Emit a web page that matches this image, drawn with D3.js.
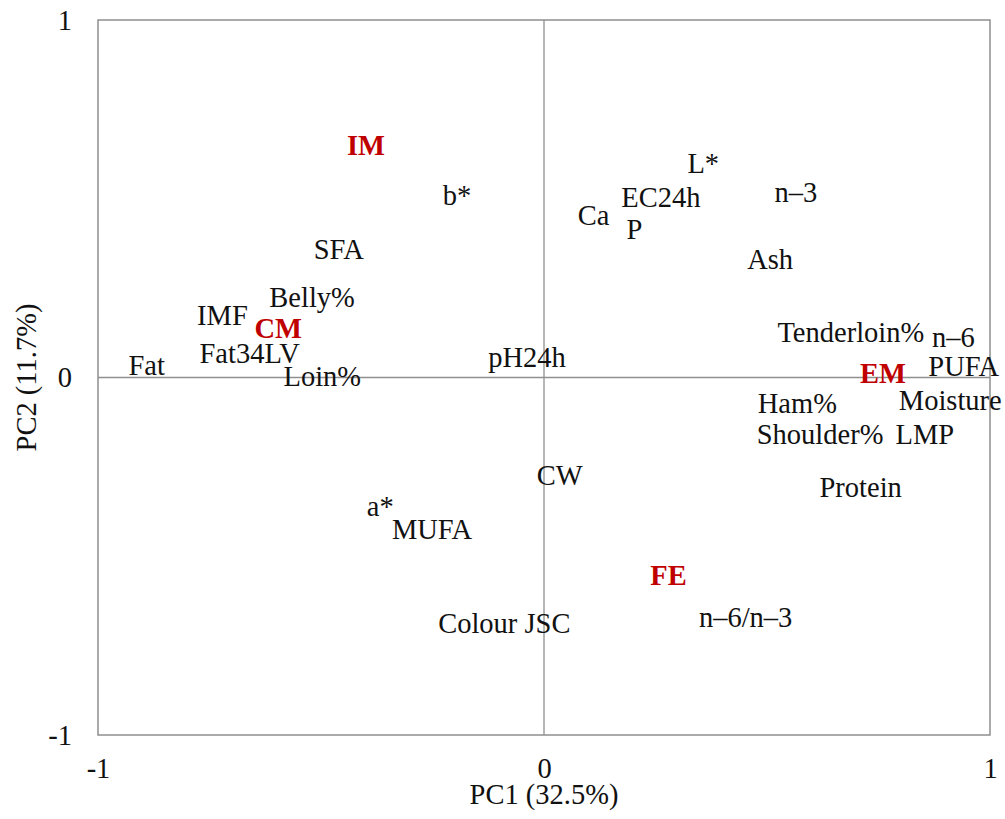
<!DOCTYPE html>
<html>
<head>
<meta charset="utf-8">
<script src="https://cdn.jsdelivr.net/npm/d3@7"></script>
<style>
  html, body { margin: 0; padding: 0; background: #fff; }
</style>
</head>
<body>
<svg id="chart" width="1005" height="819"></svg>
<script>
// Variable loadings (PC1, PC2)
const variables = ["Fat", "IMF", "Fat34LV", "Belly%", "Loin%", "SFA", "b*", "pH24h",
  "Ca", "EC24h", "P", "L*", "n–3", "Ash", "Tenderloin%", "n–6", "PUFA", "Moisture",
  "Ham%", "Shoulder%", "LMP", "Protein", "CW", "a*", "MUFA", "Colour JSC", "n–6/n–3"];
const varPC1 = [-0.891, -0.721, -0.660, -0.520, -0.497, -0.460, -0.195, -0.038,
  0.111, 0.262, 0.203, 0.357, 0.565, 0.507, 0.688, 0.918, 0.941, 0.911,
  0.568, 0.619, 0.854, 0.710, 0.035, -0.367, -0.251, -0.089, 0.452];
const varPC2 = [0.032, 0.172, 0.067, 0.224, 0.003, 0.359, 0.508, 0.056,
  0.452, 0.503, 0.415, 0.597, 0.516, 0.331, 0.127, 0.112, 0.031, -0.064,
  -0.074, -0.159, -0.159, -0.309, -0.273, -0.361, -0.425, -0.687, -0.671];

// Group scores (PC1, PC2)
const groups = ["IM", "CM", "EM", "FE"];
const groupPC1 = [-0.399, -0.596, 0.760, 0.279];
const groupPC2 = [0.650, 0.136, 0.010, -0.555];

const tickValues = [-1, 0, 1];
const tickLabels = ["-1", "0", "1"];
const xTitle = "PC1 (32.5%)";
const yTitle = "PC2 (11.7%)";

const FONT = "'Liberation Serif', 'DejaVu Serif', serif";
const svg = d3.select("#chart").attr("font-family", FONT).style("font-family", FONT);
const plot = { left: 98, right: 990, top: 20, bottom: 735 };
const fontSize = 28.5;
const lineColor = "#8f8f8f";

const x = d3.scaleLinear().domain([-1, 1]).range([plot.left, plot.right]);
const y = d3.scaleLinear().domain([-1, 1]).range([plot.bottom, plot.top]);
const tickText = d => tickLabels[tickValues.indexOf(d)];

// Frame
svg.append("rect")
  .attr("x", plot.left).attr("y", plot.top)
  .attr("width", plot.right - plot.left).attr("height", plot.bottom - plot.top)
  .attr("fill", "none").attr("stroke", lineColor).attr("stroke-width", 1.5);

// Zero lines
svg.append("line")
  .attr("x1", x(0)).attr("x2", x(0)).attr("y1", plot.top).attr("y2", plot.bottom)
  .attr("stroke", lineColor).attr("stroke-width", 1.3);
svg.append("line")
  .attr("x1", plot.left).attr("x2", plot.right).attr("y1", y(0)).attr("y2", y(0))
  .attr("stroke", lineColor).attr("stroke-width", 1.3);

// Axes: labels only
const xAxis = svg.append("g")
  .attr("transform", `translate(0,${plot.bottom})`)
  .call(d3.axisBottom(x).tickValues(tickValues).tickSize(0).tickPadding(0).tickFormat(tickText));
xAxis.attr("font-family", FONT).attr("font-size", fontSize);
xAxis.select(".domain").remove();
xAxis.selectAll("text")
  .attr("y", 43).attr("dy", null)
  .style("font-family", FONT).attr("fill", "#111");

const yAxis = svg.append("g")
  .attr("transform", `translate(${plot.left},0)`)
  .call(d3.axisLeft(y).tickValues(tickValues).tickSize(0).tickPadding(0).tickFormat(tickText));
yAxis.attr("font-family", FONT).attr("font-size", fontSize);
yAxis.select(".domain").remove();
yAxis.selectAll("text")
  .attr("x", -26).attr("dy", "0.33em")
  .style("font-family", FONT).attr("fill", "#111");

// Axis titles
svg.append("text")
  .attr("x", x(0)).attr("y", 804)
  .attr("text-anchor", "middle")
  .attr("font-size", fontSize).attr("fill", "#111")
  .text(xTitle);
svg.append("text")
  .attr("transform", `translate(36,${y(0)}) rotate(-90)`)
  .attr("text-anchor", "middle")
  .attr("font-size", fontSize).attr("fill", "#111")
  .text(yTitle);

// Variable labels
const varData = variables.map((name, i) => ({ name, pc1: varPC1[i], pc2: varPC2[i] }));
svg.append("g").selectAll("text")
  .data(varData)
  .join("text")
  .attr("x", d => x(d.pc1))
  .attr("y", d => y(d.pc2))
  .attr("dy", "0.33em")
  .attr("text-anchor", "middle")
  .attr("font-size", fontSize)
  .attr("fill", "#111")
  .text(d => d.name);

// Group labels
const groupData = groups.map((name, i) => ({ name, pc1: groupPC1[i], pc2: groupPC2[i] }));
svg.append("g").selectAll("text")
  .data(groupData)
  .join("text")
  .attr("x", d => x(d.pc1))
  .attr("y", d => y(d.pc2))
  .attr("dy", "0.33em")
  .attr("text-anchor", "middle")
  .attr("font-size", fontSize)
  .attr("font-weight", "bold")
  .attr("fill", "#c00000")
  .text(d => d.name);
</script>
</body>
</html>
